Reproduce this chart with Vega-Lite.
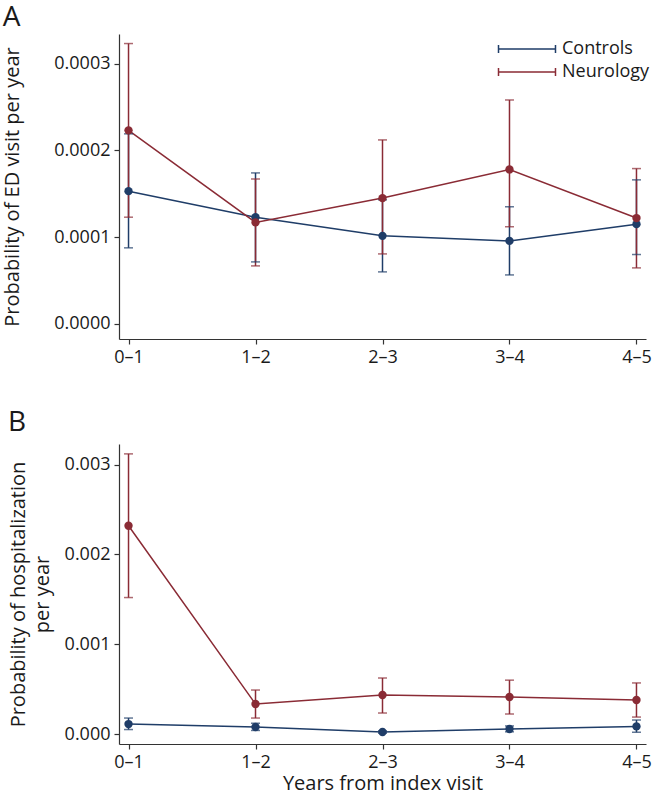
{
  "$schema": "https://vega.github.io/schema/vega-lite/v6.json",
  "background": "white",
  "padding": {"left": 2, "top": 4, "right": 5, "bottom": 0},
  "spacing": 43,
  "datasets": {
    "ed": [
      {"period": "0–1", "group": "Controls", "est": 0.000153, "lo": 0.0000877, "hi": 0.000219},
      {"period": "1–2", "group": "Controls", "est": 0.000123, "lo": 0.0000715, "hi": 0.000174},
      {"period": "2–3", "group": "Controls", "est": 0.0001015, "lo": 0.00006, "hi": 0.000143},
      {"period": "3–4", "group": "Controls", "est": 0.0000957, "lo": 0.0000565, "hi": 0.000135},
      {"period": "4–5", "group": "Controls", "est": 0.000115, "lo": 0.00008, "hi": 0.000166},
      {"period": "0–1", "group": "Neurology", "est": 0.000223, "lo": 0.000123, "hi": 0.000323},
      {"period": "1–2", "group": "Neurology", "est": 0.000117, "lo": 0.0000669, "hi": 0.000167},
      {"period": "2–3", "group": "Neurology", "est": 0.000145, "lo": 0.0000807, "hi": 0.000212},
      {"period": "3–4", "group": "Neurology", "est": 0.000178, "lo": 0.000112, "hi": 0.000258},
      {"period": "4–5", "group": "Neurology", "est": 0.000122, "lo": 0.0000646, "hi": 0.000179}
    ],
    "hosp": [
      {"period": "0–1", "group": "Controls", "est": 0.000111, "lo": 0.00005, "hi": 0.000178},
      {"period": "1–2", "group": "Controls", "est": 0.000078, "lo": 0.00004, "hi": 0.00012},
      {"period": "2–3", "group": "Controls", "est": 0.000022, "lo": 0.00001, "hi": 0.000035},
      {"period": "3–4", "group": "Controls", "est": 0.000056, "lo": 0.000025, "hi": 0.00009},
      {"period": "4–5", "group": "Controls", "est": 0.000085, "lo": 0.00002, "hi": 0.000156},
      {"period": "0–1", "group": "Neurology", "est": 0.00232, "lo": 0.00152, "hi": 0.00312},
      {"period": "1–2", "group": "Neurology", "est": 0.000334, "lo": 0.000178, "hi": 0.00049},
      {"period": "2–3", "group": "Neurology", "est": 0.000435, "lo": 0.000234, "hi": 0.000624},
      {"period": "3–4", "group": "Neurology", "est": 0.000412, "lo": 0.000223, "hi": 0.0006},
      {"period": "4–5", "group": "Neurology", "est": 0.000379, "lo": 0.000189, "hi": 0.000569}
    ]
  },
  "config": {
    "font": "Open Sans",
    "view": {"stroke": null},
    "axis": {
      "grid": false,
      "domainColor": "#333333",
      "domainWidth": 1.2,
      "tickColor": "#333333",
      "tickWidth": 1.2,
      "tickSize": 5,
      "labelFont": "Open Sans",
      "labelFontSize": 18,
      "labelColor": "#1a1a1a",
      "titleFont": "Open Sans",
      "titleFontSize": 20,
      "titleFontWeight": "normal",
      "titleColor": "#1a1a1a"
    },
    "title": {"font": "Open Sans", "fontSize": 28, "fontWeight": "normal", "anchor": "start", "frame": "bounds", "color": "#1a1a1a"}
  },
  "resolve": {"legend": {"color": "independent"}},
  "vconcat": [
    {
      "title": {"text": "A", "offset": 2},
      "width": 527,
      "height": 305,
      "data": {"name": "ed"},
      "encoding": {
        "x": {"field": "period", "type": "ordinal", "sort": null,
              "scale": {"type": "point", "padding": 0.075},
              "axis": {"title": null, "labelAngle": 0, "labelPadding": 4}},
        "color": {"field": "group", "type": "nominal",
                  "scale": {"domain": ["Controls", "Neurology"], "range": ["#1f3d68", "#8a2b35"]},
                  "legend": {"title": null, "orient": "none", "legendX": 399, "legendY": 6,
                             "padding": 0, "symbolType": "M-4,0H4M-4,-0.55V0.55M4,-0.55V0.55",
                             "symbolSize": 203, "symbolStrokeWidth": 1.5,
                             "labelFont": "Open Sans", "labelFontSize": 18, "labelColor": "#1a1a1a",
                             "labelOffset": 26, "rowPadding": 5,
                             "encode": {"symbols": {"update": {"fill": {"value": "transparent"}, "stroke": {"scale": "color", "field": "value"}, "strokeWidth": {"value": 1.5}}}}}}
      },
      "layer": [
        {"mark": {"type": "line", "strokeWidth": 1.5},
         "encoding": {"y": {"field": "est", "type": "quantitative",
                            "scale": {"domain": [-0.0000173, 0.000334], "nice": false, "zero": false},
                            "axis": {"title": "Probability of ED visit per year", "values": [0, 0.0001, 0.0002, 0.0003], "format": ".4f", "labelPadding": 4, "titlePadding": 31}}}},
        {"mark": {"type": "rule", "strokeWidth": 1.5},
         "encoding": {"y": {"field": "lo", "type": "quantitative"}, "y2": {"field": "hi"}}},
        {"mark": {"type": "tick", "orient": "horizontal", "size": 9, "thickness": 1.5},
         "encoding": {"y": {"field": "lo", "type": "quantitative"}}},
        {"mark": {"type": "tick", "orient": "horizontal", "size": 9, "thickness": 1.5},
         "encoding": {"y": {"field": "hi", "type": "quantitative"}}},
        {"mark": {"type": "point", "filled": true, "opacity": 1, "size": 70},
         "encoding": {"y": {"field": "est", "type": "quantitative"}}}
      ]
    },
    {
      "title": {"text": "B", "offset": 7},
      "width": 527,
      "height": 300,
      "data": {"name": "hosp"},
      "encoding": {
        "x": {"field": "period", "type": "ordinal", "sort": null,
              "scale": {"type": "point", "padding": 0.075},
              "axis": {"title": "Years from index visit", "labelAngle": 0, "labelPadding": 4, "titlePadding": 2}},
        "color": {"field": "group", "type": "nominal",
                  "scale": {"domain": ["Controls", "Neurology"], "range": ["#1f3d68", "#8a2b35"]},
                  "legend": null}
      },
      "layer": [
        {"mark": {"type": "line", "strokeWidth": 1.5},
         "encoding": {"y": {"field": "est", "type": "quantitative",
                            "scale": {"domain": [-0.000111, 0.00323], "nice": false, "zero": false},
                            "axis": {"title": ["Probability of hospitalization", "per year"], "values": [0, 0.001, 0.002, 0.003], "format": ".3f", "labelPadding": 4, "titlePadding": 12, "titleLineHeight": 24}}}},
        {"mark": {"type": "rule", "strokeWidth": 1.5},
         "encoding": {"y": {"field": "lo", "type": "quantitative"}, "y2": {"field": "hi"}}},
        {"mark": {"type": "tick", "orient": "horizontal", "size": 9, "thickness": 1.5},
         "encoding": {"y": {"field": "lo", "type": "quantitative"}}},
        {"mark": {"type": "tick", "orient": "horizontal", "size": 9, "thickness": 1.5},
         "encoding": {"y": {"field": "hi", "type": "quantitative"}}},
        {"mark": {"type": "point", "filled": true, "opacity": 1, "size": 70},
         "encoding": {"y": {"field": "est", "type": "quantitative"}}}
      ]
    }
  ]
}
